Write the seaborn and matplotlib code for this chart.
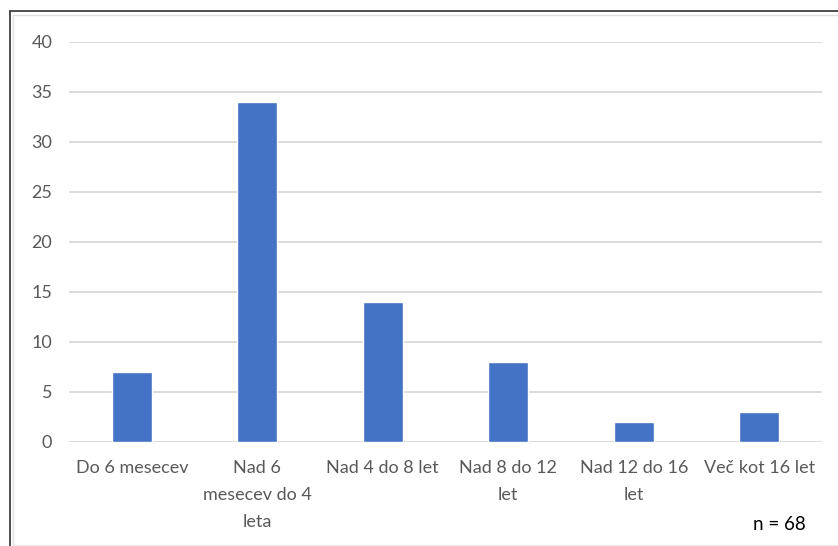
import matplotlib
matplotlib.use("Agg")
import matplotlib.pyplot as plt
from matplotlib.lines import Line2D
import seaborn as sns
import pandas as pd

categories = [
    "Do 6 mesecev",
    "Nad 6\nmesecev do 4\nleta",
    "Nad 4 do 8 let",
    "Nad 8 do 12\nlet",
    "Nad 12 do 16\nlet",
    "Več kot 16 let",
]
counts = [7, 34, 14, 8, 2, 3]
y_ticks = [0, 5, 10, 15, 20, 25, 30, 35, 40]
sample_note = "n = 68"

df = pd.DataFrame({"kategorija": categories, "stevilo": counts})

sns.set_theme(style="white")
plt.rcParams["font.family"] = ["Lato", "DejaVu Sans"]

fig = plt.figure(figsize=(8.38, 5.46), dpi=100)
ax = fig.add_axes([69 / 838, 1 - 442 / 546, (822 - 69) / 838, 400 / 546])

sns.barplot(data=df, x="kategorija", y="stevilo", color="#4472C4",
            width=0.32, saturation=1, ax=ax, zorder=3)

ax.set_ylim(0, 40)
ax.set_yticks(y_ticks)
ax.set_xlim(-0.5, len(categories) - 0.5)
ax.grid(axis="y", color="#D9D9D9", linewidth=1.3, zorder=0)
ax.grid(axis="x", visible=False)
for s in ax.spines.values():
    s.set_visible(False)
ax.set_xlabel("")
ax.set_ylabel("")
ax.tick_params(axis="both", length=0, labelsize=13, labelcolor="#595959")
ax.tick_params(axis="y", pad=12)
ax.tick_params(axis="x", pad=13)
for lbl in ax.get_xticklabels():
    lbl.set_linespacing(1.85)

fig.text(806 / 838, 1 - 524 / 546, sample_note, ha="right", va="center",
         fontsize=13.5, color="black")

# frame around the figure
fig.add_artist(Line2D([10 / 838, 1], [1 - 11 / 546] * 2, color="#404040", lw=1.3,
                      transform=fig.transFigure))
fig.add_artist(Line2D([10 / 838] * 2, [0, 1 - 11 / 546], color="#404040", lw=1.3,
                      transform=fig.transFigure))
fig.add_artist(Line2D([13 / 838, 1], [1 - 15 / 546] * 2, color="#E0E0E0", lw=1.0,
                      transform=fig.transFigure))
fig.add_artist(Line2D([13 / 838] * 2, [1 / 546, 1 - 15 / 546], color="#E0E0E0", lw=1.0,
                      transform=fig.transFigure))
fig.add_artist(Line2D([13 / 838, 1], [1 / 546] * 2, color="#EBEBEB", lw=1.0,
                      transform=fig.transFigure))

fig.savefig("out.png", dpi=100)
